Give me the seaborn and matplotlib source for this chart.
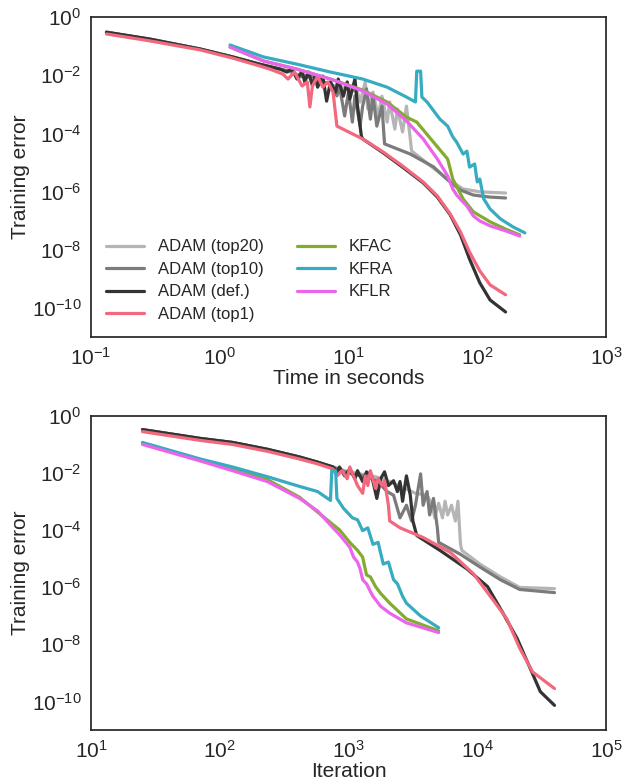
import numpy as np
import matplotlib
matplotlib.use('Agg')
import matplotlib.pyplot as plt
import seaborn as sns

labels = ['ADAM (top20)', 'ADAM (top10)', 'ADAM (def.)', 'ADAM (top1)', 'KFAC', 'KFRA', 'KFLR']
colors = ['#b5b5b5', '#7b7b7b', '#333333', '#f2687d', '#82ab2f', '#37acc1', '#ec63ec']

# ---- top panel: log10(seconds) vs log10(training error) ----
time_top20 = [-0.88, -0.54, -0.15, 0.10, 0.31, 0.47, 0.62, 0.78, 0.93, 1.01, 1.07, 1.09, 1.13, 1.15, 1.19,
              1.23, 1.26, 1.30, 1.32, 1.36, 1.38, 1.42, 1.45, 1.48, 1.49, 1.63, 1.77, 1.89, 2.02, 2.22]
err_t_top20 = [-0.52, -0.76, -1.10, -1.37, -1.62, -1.79, -1.99, -2.20, -2.41, -2.47, -2.58, -2.92, -2.23, -3.16, -2.58,
               -3.40, -2.72, -3.61, -2.92, -3.85, -3.16, -3.95, -3.06, -4.19, -4.60, -5.09, -5.57, -5.91, -6.01, -6.05]

time_top10 = [-0.88, -0.54, -0.15, 0.10, 0.31, 0.47, 0.55, 0.62, 0.70, 0.78, 0.86, 0.91, 0.93, 0.97, 1.00, 1.03,
              1.05, 1.09, 1.11, 1.14, 1.17, 1.19, 1.22, 1.26, 1.28, 1.48, 1.66, 1.77, 1.87, 1.97, 2.10, 2.22]
err_t_top10 = [-0.52, -0.76, -1.10, -1.37, -1.62, -1.79, -1.86, -2.06, -1.99, -2.20, -2.30, -2.71, -2.37, -3.40, -2.58, -3.61,
               -2.71, -3.75, -3.06, -2.47, -3.51, -2.71, -3.75, -3.06, -4.36, -4.71, -5.15, -5.60, -5.95, -6.12, -6.19, -6.22]

time_def = [-0.88, -0.54, -0.15, 0.10, 0.31, 0.47, 0.52, 0.56, 0.60, 0.64, 0.66, 0.69, 0.72, 0.74, 0.76, 0.80, 0.83,
            0.86, 0.90, 0.92, 0.96, 0.99, 1.01, 1.05, 1.07, 1.10, 1.11, 1.27, 1.42, 1.58, 1.69, 1.79, 1.87, 1.94,
            2.02, 2.10, 2.22]
err_t_def = [-0.52, -0.76, -1.10, -1.37, -1.62, -1.79, -1.89, -1.79, -2.13, -1.86, -2.23, -1.89, -2.37, -2.03, -2.41,
             -2.03, -2.89, -2.23, -2.58, -2.13, -2.72, -2.23, -2.82, -2.13, -3.06, -4.09, -4.19, -4.67, -5.16, -5.70,
             -6.19, -6.80, -7.49, -8.32, -9.14, -9.73, -10.14]

time_top1 = [-0.88, -0.54, -0.15, 0.10, 0.31, 0.39, 0.49, 0.53, 0.58, 0.64, 0.68, 0.70, 0.72, 0.76, 0.80, 0.84, 0.88,
             0.91, 1.11, 1.27, 1.42, 1.58, 1.69, 1.79, 1.87, 1.94, 2.02, 2.10, 2.22]
err_t_top1 = [-0.58, -0.82, -1.13, -1.41, -1.68, -1.79, -1.96, -2.13, -1.89, -2.37, -2.23, -3.09, -2.37, -2.03, -2.41,
              -2.23, -2.58, -3.75, -4.19, -4.64, -5.12, -5.67, -6.15, -6.77, -7.39, -8.08, -8.73, -9.21, -9.55]

time_kfac = [0.08, 0.34, 0.60, 0.86, 1.11, 1.30, 1.45, 1.53, 1.66, 1.77, 1.81, 1.89, 1.97, 2.10, 2.22, 2.33]
err_t_kfac = [-1.03, -1.51, -1.79, -2.13, -2.51, -2.92, -3.44, -3.61, -4.30, -4.88, -5.57, -6.25, -6.70, -7.04, -7.29, -7.49]

time_kfra = [0.08, 0.34, 0.60, 0.86, 1.11, 1.30, 1.45, 1.52, 1.53, 1.56, 1.57, 1.61, 1.71, 1.77, 1.81, 1.84, 1.89,
             1.92, 1.94, 1.98, 2.00, 2.02, 2.05, 2.10, 2.18, 2.28, 2.37]
err_t_kfra = [-0.96, -1.37, -1.62, -1.89, -2.13, -2.41, -2.75, -2.92, -1.86, -1.86, -2.75, -2.92, -3.51, -3.75, -4.12,
              -4.30, -4.71, -4.61, -5.16, -5.05, -5.67, -5.57, -6.25, -6.60, -6.94, -7.22, -7.42]

time_kflr = [0.08, 0.34, 0.60, 0.86, 1.11, 1.30, 1.45, 1.58, 1.69, 1.77, 1.81, 1.84, 1.89, 1.92, 1.97, 2.02, 2.10,
             2.22, 2.33]
err_t_kflr = [-1.03, -1.51, -1.79, -2.13, -2.54, -2.99, -3.57, -4.19, -4.88, -5.46, -5.91, -6.12, -6.36, -6.50, -6.84,
              -7.01, -7.18, -7.35, -7.53]

# ---- bottom panel: log10(iteration) vs log10(training error) ----
iter_top20 = [1.40, 1.85, 2.10, 2.37, 2.62, 2.76, 2.88, 2.97, 3.09, 3.21, 3.32, 3.44, 3.52, 3.61, 3.65, 3.67, 3.70,
              3.73, 3.75, 3.77, 3.80, 3.83, 3.85, 3.87, 3.88, 4.02, 4.18, 4.33, 4.60]
err_i_top20 = [-0.48, -0.79, -0.93, -1.17, -1.44, -1.62, -1.79, -1.92, -2.03, -2.13, -2.30, -2.54, -2.71, -2.78, -3.13,
               -3.57, -3.06, -3.57, -2.99, -3.47, -3.13, -3.68, -2.99, -4.50, -4.71, -5.19, -5.64, -6.01, -6.05]

iter_top10 = [1.40, 1.85, 2.10, 2.37, 2.62, 2.76, 2.88, 2.97, 3.05, 3.14, 3.22, 3.30, 3.35, 3.40, 3.45, 3.49, 3.52,
              3.56, 3.58, 3.61, 3.63, 3.66, 3.69, 3.70, 3.87, 4.02, 4.18, 4.33, 4.60]
err_i_top10 = [-0.48, -0.79, -0.93, -1.17, -1.44, -1.62, -1.79, -1.96, -2.06, -2.13, -2.27, -2.65, -2.78, -3.57, -3.13,
               -3.68, -3.13, -2.03, -3.13, -2.65, -3.47, -2.89, -3.92, -4.43, -4.85, -5.29, -5.74, -6.08, -6.19]

iter_def = [1.40, 1.85, 2.10, 2.37, 2.62, 2.76, 2.88, 2.91, 2.93, 2.97, 3.01, 3.05, 3.07, 3.11, 3.14, 3.18, 3.22, 3.25,
            3.28, 3.31, 3.35, 3.38, 3.40, 3.42, 3.45, 3.48, 3.50, 3.53, 3.71, 3.92, 4.08, 4.20, 4.31, 4.41, 4.49, 4.60]
err_i_def = [-0.48, -0.79, -0.93, -1.17, -1.44, -1.62, -1.79, -1.96, -1.79, -2.10, -1.86, -2.20, -1.92, -2.30, -1.96,
             -2.10, -2.89, -2.20, -1.96, -2.44, -2.27, -2.65, -2.30, -2.99, -2.10, -2.78, -3.68, -4.19, -4.71, -5.36,
             -5.98, -6.91, -7.80, -8.83, -9.66, -10.14]

iter_top1 = [1.40, 1.85, 2.10, 2.37, 2.62, 2.76, 2.88, 2.91, 2.95, 2.99, 3.01, 3.07, 3.11, 3.13, 3.15, 3.17, 3.21, 3.23,
             3.26, 3.28, 3.31, 3.32, 3.40, 3.58, 3.79, 3.97, 4.12, 4.23, 4.33, 4.43, 4.60]
err_i_top1 = [-0.55, -0.86, -1.00, -1.24, -1.51, -1.68, -1.86, -2.10, -1.92, -2.20, -1.79, -2.44, -2.71, -2.10, -2.44,
              -1.92, -2.54, -2.20, -2.44, -2.27, -3.13, -3.68, -3.92, -4.26, -4.78, -5.53, -6.43, -7.11, -8.14, -8.97,
              -9.55]

iter_kfac = [1.40, 1.85, 2.10, 2.37, 2.62, 2.88, 2.93, 3.01, 3.07, 3.11, 3.14, 3.17, 3.21, 3.25, 3.32, 3.45, 3.70]
err_i_kfac = [-0.96, -1.55, -1.86, -2.23, -2.85, -3.81, -3.99, -4.43, -4.71, -4.95, -5.57, -5.64, -5.98, -6.22, -6.56,
              -7.11, -7.53]

iter_kfra = [1.40, 1.85, 2.10, 2.37, 2.62, 2.76, 2.86, 2.87, 2.90, 2.91, 2.96, 3.03, 3.07, 3.11, 3.15, 3.19, 3.23, 3.27,
             3.31, 3.35, 3.38, 3.42, 3.45, 3.56, 3.70]
err_i_kfra = [-0.93, -1.51, -1.79, -2.13, -2.47, -2.65, -2.96, -1.92, -1.92, -2.89, -3.23, -3.57, -3.64, -4.02, -3.92,
              -4.50, -4.43, -5.19, -5.12, -5.74, -5.88, -6.32, -6.56, -7.01, -7.42]

iter_kflr = [1.40, 1.85, 2.10, 2.37, 2.62, 2.76, 2.88, 2.93, 3.01, 3.04, 3.07, 3.09, 3.11, 3.14, 3.17, 3.19, 3.25, 3.32,
             3.45, 3.70]
err_i_kflr = [-1.00, -1.58, -1.92, -2.30, -2.89, -3.33, -3.92, -4.16, -4.60, -4.95, -5.12, -5.36, -5.74, -5.88, -6.15,
              -6.32, -6.67, -6.91, -7.25, -7.59]

time_series = [(time_top20, err_t_top20), (time_top10, err_t_top10), (time_def, err_t_def), (time_top1, err_t_top1),
               (time_kfac, err_t_kfac), (time_kfra, err_t_kfra), (time_kflr, err_t_kflr)]
iter_series = [(iter_top20, err_i_top20), (iter_top10, err_i_top10), (iter_def, err_i_def), (iter_top1, err_i_top1),
               (iter_kfac, err_i_kfac), (iter_kfra, err_i_kfra), (iter_kflr, err_i_kflr)]

sns.set_theme(style='white')
plt.rcParams['font.family'] = ['Liberation Sans', 'DejaVu Sans']
plt.rcParams['axes.unicode_minus'] = False

fig = plt.figure(figsize=(6.25, 7.84), dpi=100)
ax1 = fig.add_axes([0.1456, 0.5702, 0.824, 0.408])
ax2 = fig.add_axes([0.1456, 0.069, 0.824, 0.4005])

for (xs, ys), lab, col in zip(time_series, labels, colors):
    sns.lineplot(x=10.0 ** np.array(xs), y=10.0 ** np.array(ys), ax=ax1, color=col, label=lab,
                 lw=2.3, sort=False, estimator=None)
for (xs, ys), lab, col in zip(iter_series, labels, colors):
    sns.lineplot(x=10.0 ** np.array(xs), y=10.0 ** np.array(ys), ax=ax2, color=col,
                 lw=2.3, sort=False, estimator=None, legend=False)

yt = [1e0, 1e-2, 1e-4, 1e-6, 1e-8, 1e-10]
for ax, xl, lim in [(ax1, 'Time in seconds', (1e-1, 1e3)), (ax2, 'Iteration', (1e1, 1e5))]:
    ax.set_xscale('log')
    ax.set_yscale('log')
    ax.set_xlim(*lim)
    ax.set_ylim(1e-11, 1e0)
    ax.set_yticks(yt)
    ax.minorticks_off()
    ax.tick_params(labelsize=15, pad=1)
    ax.set_xlabel(xl, fontsize=15, labelpad=0)
    ax.set_ylabel('Training error', fontsize=15, labelpad=1)

ax1.legend(loc='lower left', ncol=2, frameon=False, fontsize=12, handlelength=2.3,
           handletextpad=0.8, columnspacing=2.0, labelspacing=0.45)

fig.savefig('out.png', dpi=100)
